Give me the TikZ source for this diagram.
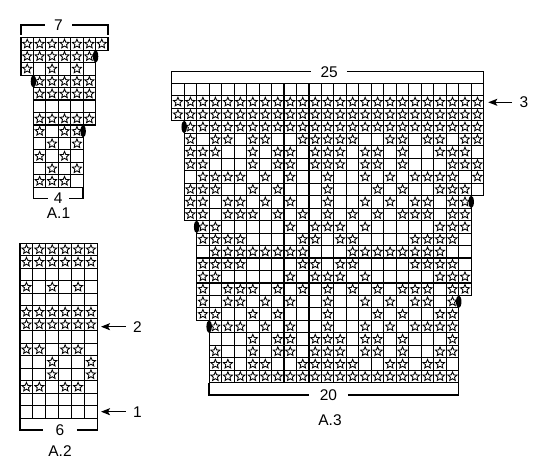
\documentclass[tikz,border=0pt]{standalone}
\usepackage{fontspec}
\setmainfont{Liberation Sans}
\usetikzlibrary{shapes.geometric,arrows.meta,positioning}

\tikzset{
  cell/.style={line width=1.1pt},
  knitstar/.style={star, star points=5, star point ratio=2.2, draw, line width=0.85pt,
    inner sep=0pt, minimum size=9.5pt},
  brace/.style={line width=1.5pt},
  widthlabel/.style={font=\fontsize{15.5}{18}\selectfont, inner ysep=0pt, inner xsep=#1},
  widthlabel/.default=8pt,
  chartname/.style={font=\fontsize{15.5}{18}\selectfont},
  rowarrow/.style={line width=1.3pt, shorten <=4pt, -{Stealth[length=9pt,width=7pt,inset=2pt]}}
}

% one chart row: row, first col, last col, cols with a star
\newcommand{\knitrow}[4]{%
  \foreach \c in {#2,...,#3} {\draw[cell] (\c-1,#1-1) rectangle (\c,#1);}
  \foreach \c in {#4} {\node[knitstar] at (\c-0.5,#1-0.5) {};}}
% row without stars
\newcommand{\plainrow}[3]{%
  \foreach \c in {#2,...,#3} {\draw[cell] (\c-1,#1-1) rectangle (\c,#1);}}
% black marker on a cell edge
\newcommand{\edgemark}[2]{\fill (#1,#2) ellipse [x radius=2.7pt, y radius=6.3pt];}

\begin{document}
\begin{tikzpicture}[x=1pt,y=-1pt]
\useasboundingbox (0,0) rectangle (550,473);

% A.1
\begin{scope}[shift={(21pt,-37.7pt)},x=12.43pt,y=-12.47pt]
  \knitrow{1}{1}{7}{1,...,7}
  \knitrow{2}{1}{6}{1,...,6}
  \knitrow{3}{1}{6}{1,3,5}
  \knitrow{4}{2}{6}{2,...,6}
  \knitrow{5}{2}{6}{2,...,6}
  \plainrow{6}{2}{6}
  \knitrow{7}{2}{6}{2,...,6}
  \knitrow{8}{2}{5}{2,4,5}
  \knitrow{9}{2}{5}{3,5}
  \knitrow{10}{2}{5}{2,4}
  \knitrow{11}{2}{5}{3,5}
  \knitrow{12}{2}{5}{2,3,4}
  \edgemark{6}{1.5}
  \edgemark{1}{3.5}
  \edgemark{5}{7.5}
\end{scope}
\node[widthlabel=9pt] (top7) at (58.5,25) {7};
\draw[brace] (21,35) |- (top7);
\draw[brace] (top7) -| (108,35);
\node[widthlabel=6.2pt] (bot4) at (58.3,198.3) {4};
\draw[brace] (33.4,188.3) |- (bot4);
\draw[brace] (bot4) -| (83.2,188.3);
\node[chartname] (nameA1) at (58.5,213) {A.1};

% A.2
\begin{scope}[shift={(20pt,-243.3pt)},x=12.9pt,y=-12.5pt]
  \knitrow{1}{1}{6}{1,...,6}
  \knitrow{2}{1}{6}{1,...,6}
  \plainrow{3}{1}{6}
  \knitrow{4}{1}{6}{1,3,5}
  \plainrow{5}{1}{6}
  \knitrow{6}{1}{6}{1,...,6}
  \knitrow{7}{1}{6}{1,...,6}
  \plainrow{8}{1}{6}
  \knitrow{9}{1}{6}{1,2,4,5}
  \knitrow{10}{1}{6}{3,6}
  \knitrow{11}{1}{6}{3,6}
  \knitrow{12}{1}{6}{1,2,4,5}
  \plainrow{13}{1}{6}
  \plainrow{14}{1}{6}
\end{scope}
\node[widthlabel=12.4pt] (bot6) at (60,430) {6};
\draw[brace] (20,419.3) |- (bot6);
\draw[brace] (bot6) -| (97.4,419.3);
\node[chartname] (nameA2) at (60,451.5) {A.2};
\node[chartname] (row2) at (137.5,326.7) {2};
\coordinate (tip2) at (101,326.7);
\draw[rowarrow] (row2) -- (tip2);
\node[chartname] (row1) at (137.5,411.7) {1};
\coordinate (tip1) at (101,411.7);
\draw[rowarrow] (row1) -- (tip1);

% A.3
\begin{scope}[shift={(171.7pt,-83.3pt)},x=12.48pt,y=-12.48pt]
  \plainrow{1}{1}{25}
  \knitrow{2}{1}{25}{1,...,25}
  \knitrow{3}{1}{25}{1,...,25}
  \knitrow{4}{2}{25}{2,...,25}
  \knitrow{5}{2}{25}{2,4,5,7,8,11,12,13,14,15,18,19,21,22,24,25}
  \knitrow{6}{2}{25}{2,3,4,7,9,10,12,13,14,16,17,19,22,23,24}
  \knitrow{7}{2}{25}{2,3,7,9,10,12,13,14,16,17,19,23,24,25}
  \knitrow{8}{2}{25}{3,4,5,6,8,10,13,16,18,20,21,22,23,25}
  \knitrow{9}{2}{25}{2,3,4,7,9,13,17,19,22,23,24}
  \knitrow{10}{2}{24}{2,3,5,6,8,10,13,16,18,20,21,23,24}
  \knitrow{11}{2}{24}{2,3,5,6,7,9,11,13,15,17,19,20,21,23,24}
  \knitrow{12}{3}{24}{3,4,10,12,13,14,16,22,23,24}
  \knitrow{13}{3}{24}{3,4,5,6,11,12,14,15,20,21,22,23}
  \knitrow{14}{3}{24}{4,5,6,7,8,9,10,11,15,16,17,18,19,20,21,22}
  \knitrow{15}{3}{24}{3,4,5,6,11,12,14,15,20,21,22,23}
  \knitrow{16}{3}{24}{3,4,10,12,13,14,16,22,23,24}
  \knitrow{17}{3}{24}{3,5,6,7,9,11,13,15,17,19,20,21,23,24}
  \knitrow{18}{3}{23}{3,5,6,8,10,13,16,18,20,21,23}
  \knitrow{19}{3}{23}{3,4,7,9,13,17,19,22,23}
  \knitrow{20}{4}{23}{4,5,6,8,10,13,16,18,20,21,22,23}
  \knitrow{21}{4}{23}{7,9,10,12,13,14,16,17,19,23}
  \knitrow{22}{4}{23}{4,7,9,10,12,13,14,16,17,19,22,23}
  \knitrow{23}{4}{23}{4,5,7,8,11,12,13,14,15,18,19,21,22}
  \knitrow{24}{4}{23}{4,...,23}
  \edgemark{1}{3.5}
  \edgemark{2}{11.5}
  \edgemark{3}{19.5}
  \edgemark{24}{9.5}
  \edgemark{23}{17.5}
\end{scope}
\node[widthlabel=8.9pt] (top25) at (329.2,71.7) {25};
\draw[brace] (171.7,83) |- (top25);
\draw[brace] (top25) -| (483.7,83);
\node[widthlabel=10.6pt] (bot20) at (328.5,395) {20};
\draw[brace] (209.1,383.3) |- (bot20);
\draw[brace] (bot20) -| (458.7,383.3);
\node[chartname] (nameA3) at (330,420) {A.3};
\node[chartname] (row3) at (524,102.3) {3};
\coordinate (tip3) at (488.3,102.3);
\draw[rowarrow] (row3) -- (tip3);
\end{tikzpicture}
\end{document}
